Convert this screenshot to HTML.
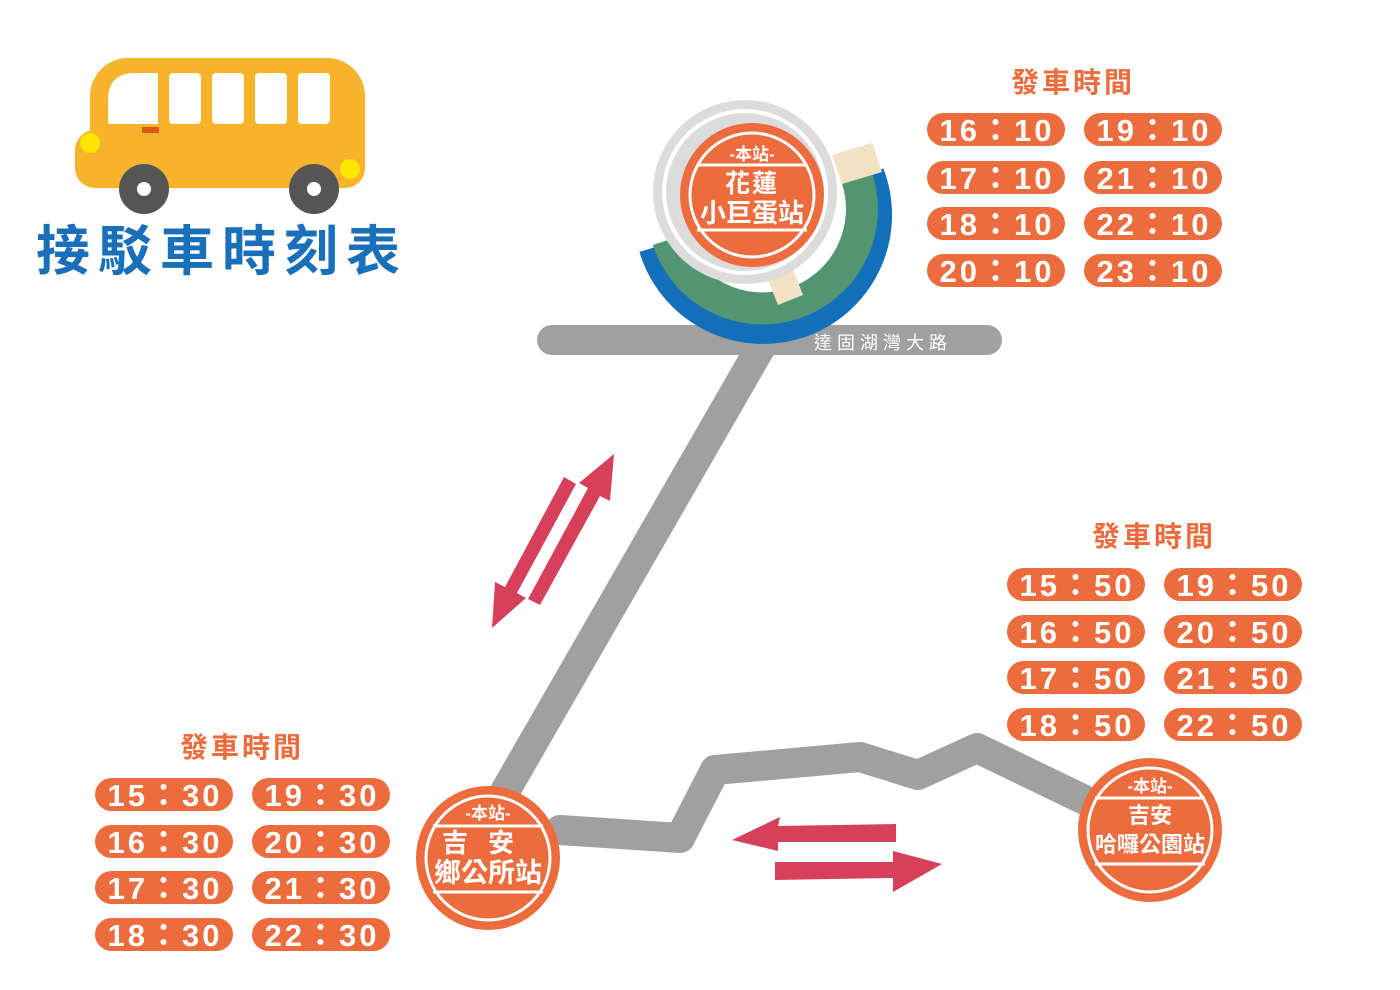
<!DOCTYPE html>
<html><head><meta charset="utf-8"><style>
html,body{margin:0;padding:0;background:#fff}
svg{display:block}
text{font-family:"Liberation Sans","Noto Sans CJK TC",sans-serif;font-weight:bold}
</style></head><body>
<svg width="1400" height="990" viewBox="0 0 1400 990" xmlns="http://www.w3.org/2000/svg">
<!-- bus -->
<rect x="90" y="58" width="275" height="130" rx="38" fill="#f7b32b"/>
<rect x="75" y="130" width="290" height="58" rx="20" fill="#f7b32b"/>
<path d="M108 124 V100 Q108 73 135 73 H158 V124 Z" fill="#fff"/>
<rect x="169" y="73" width="32" height="51" rx="4" fill="#fff"/>
<rect x="212" y="73" width="32" height="51" rx="4" fill="#fff"/>
<rect x="255" y="73" width="32" height="51" rx="4" fill="#fff"/>
<rect x="298" y="73" width="32" height="51" rx="4" fill="#fff"/>
<rect x="142" y="127" width="17" height="6" fill="#e2561c"/>
<circle cx="90" cy="143" r="10" fill="#ffe600"/>
<circle cx="350" cy="169" r="10" fill="#ffe600"/>
<circle cx="144" cy="189" r="25" fill="#555"/><circle cx="144" cy="189" r="7" fill="#fff"/>
<circle cx="314" cy="189" r="25" fill="#555"/><circle cx="314" cy="189" r="7" fill="#fff"/>
<text x="222" y="270" font-size="54" fill="#1a6fba" text-anchor="middle" letter-spacing="8">接駁車時刻表</text>

<!-- roads -->
<g stroke="#a0a0a0" stroke-width="30" fill="none" stroke-linecap="round" stroke-linejoin="round">
<line x1="552" y1="340" x2="987" y2="340"/>
<line x1="762" y1="345" x2="500" y2="800"/>
<polyline points="560,830 680,838 715,770 860,757 918,775 977,748 1095,805"/>
</g>

<!-- top station decoration -->
<g transform="translate(0,-12)">
<path d="M 874 184 A 119 119 0 1 1 649 261" stroke="#126fba" stroke-width="20" fill="none"/>
<path d="M 857 190 A 99 99 0 1 1 668 252" stroke="#529570" stroke-width="32" fill="none"/>
</g>
<polygon points="832,155 872,143 882,172 842,184" fill="#f0e2c2"/>
<polygon points="765,272 790,262 803,295 778,305" fill="#f0e2c2"/>
<circle cx="745" cy="192" r="92" fill="#dcdcdc"/>
<circle cx="745" cy="192" r="83" fill="#fff"/>
<circle cx="745" cy="192" r="79" fill="#dcdcdc"/>
<text x="883" y="349" font-size="18" fill="#fff" text-anchor="middle" letter-spacing="5" style="font-weight:normal">達固湖灣大路</text>

<!-- arrows -->
<g fill="#d6405a">
<polygon points="564,477 576,484 517,593 526,598 492,628 495,582 505,587"/>
<polygon points="540,605 528,599 588,488 579,483 614,454 610,501 600,496"/>
<polygon points="896,824 896,842 778,842 778,851 732,840 780,817 778,826"/>
<polygon points="775,862 775,880 893,878 893,892 942,864 893,851 893,862"/>
</g>

<!-- stations -->
<circle cx="752" cy="195" r="72" fill="#ec6c3d"/>
<circle cx="752" cy="195" r="62" fill="none" stroke="#fff" stroke-width="3"/>
<line x1="697" y1="165" x2="807" y2="165" stroke="#fff" stroke-width="3"/>
<line x1="697" y1="230" x2="807" y2="230" stroke="#fff" stroke-width="3"/>
<text x="752" y="160" font-size="17" fill="#fff" text-anchor="middle">-本站-</text>
<text x="752" y="192" font-size="25" fill="#fff" text-anchor="middle" letter-spacing="2">花蓮</text>
<text x="752" y="222" font-size="26" fill="#fff" text-anchor="middle">小巨蛋站</text>

<circle cx="488" cy="858" r="72" fill="#ec6c3d"/>
<circle cx="488" cy="858" r="62" fill="none" stroke="#fff" stroke-width="3"/>
<line x1="433" y1="826" x2="543" y2="826" stroke="#fff" stroke-width="3"/>
<line x1="433" y1="892" x2="543" y2="892" stroke="#fff" stroke-width="3"/>
<text x="488" y="819" font-size="17" fill="#fff" text-anchor="middle">-本站-</text>
<text x="488" y="852" font-size="26" fill="#fff" text-anchor="middle" letter-spacing="20">吉安</text>
<text x="488" y="882" font-size="27" fill="#fff" text-anchor="middle">鄉公所站</text>

<circle cx="1150" cy="830" r="72" fill="#ec6c3d"/>
<circle cx="1150" cy="830" r="62" fill="none" stroke="#fff" stroke-width="3"/>
<line x1="1095" y1="798" x2="1205" y2="798" stroke="#fff" stroke-width="3"/>
<line x1="1095" y1="864" x2="1205" y2="864" stroke="#fff" stroke-width="3"/>
<text x="1150" y="792" font-size="17" fill="#fff" text-anchor="middle">-本站-</text>
<text x="1150" y="823" font-size="22" fill="#fff" text-anchor="middle">吉安</text>
<text x="1150" y="852" font-size="22" fill="#fff" text-anchor="middle">哈囉公園站</text>

<!-- timetables -->
<text x="1073" y="92" font-size="28" fill="#ec6c3d" text-anchor="middle" letter-spacing="3">發車時間</text>
<text x="1154" y="546" font-size="28" fill="#ec6c3d" text-anchor="middle" letter-spacing="3">發車時間</text>
<text x="242" y="757" font-size="28" fill="#ec6c3d" text-anchor="middle" letter-spacing="3">發車時間</text>
<g fill="#ec6c3d">
<rect x="927" y="113" width="138" height="33" rx="16.5"/><rect x="1084" y="113" width="138" height="33" rx="16.5"/>
<rect x="927" y="161" width="138" height="33" rx="16.5"/><rect x="1084" y="161" width="138" height="33" rx="16.5"/>
<rect x="927" y="207" width="138" height="33" rx="16.5"/><rect x="1084" y="207" width="138" height="33" rx="16.5"/>
<rect x="927" y="254" width="138" height="33" rx="16.5"/><rect x="1084" y="254" width="138" height="33" rx="16.5"/>

<rect x="1007" y="568" width="138" height="33" rx="16.5"/><rect x="1164" y="568" width="138" height="33" rx="16.5"/>
<rect x="1007" y="615" width="138" height="33" rx="16.5"/><rect x="1164" y="615" width="138" height="33" rx="16.5"/>
<rect x="1007" y="661" width="138" height="33" rx="16.5"/><rect x="1164" y="661" width="138" height="33" rx="16.5"/>
<rect x="1007" y="708" width="138" height="33" rx="16.5"/><rect x="1164" y="708" width="138" height="33" rx="16.5"/>

<rect x="95" y="778" width="138" height="33" rx="16.5"/><rect x="252" y="778" width="138" height="33" rx="16.5"/>
<rect x="95" y="825" width="138" height="33" rx="16.5"/><rect x="252" y="825" width="138" height="33" rx="16.5"/>
<rect x="95" y="871" width="138" height="33" rx="16.5"/><rect x="252" y="871" width="138" height="33" rx="16.5"/>
<rect x="95" y="918" width="138" height="33" rx="16.5"/><rect x="252" y="918" width="138" height="33" rx="16.5"/>
</g>
<g font-size="31" fill="#fff" text-anchor="middle" letter-spacing="3">
<text x="997" y="141">16：10</text><text x="1154" y="141">19：10</text>
<text x="997" y="189">17：10</text><text x="1154" y="189">21：10</text>
<text x="997" y="235">18：10</text><text x="1154" y="235">22：10</text>
<text x="997" y="282">20：10</text><text x="1154" y="282">23：10</text>

<text x="1077" y="596">15：50</text><text x="1234" y="596">19：50</text>
<text x="1077" y="643">16：50</text><text x="1234" y="643">20：50</text>
<text x="1077" y="689">17：50</text><text x="1234" y="689">21：50</text>
<text x="1077" y="736">18：50</text><text x="1234" y="736">22：50</text>

<text x="165" y="806">15：30</text><text x="322" y="806">19：30</text>
<text x="165" y="853">16：30</text><text x="322" y="853">20：30</text>
<text x="165" y="899">17：30</text><text x="322" y="899">21：30</text>
<text x="165" y="946">18：30</text><text x="322" y="946">22：30</text>
</g>
</svg>
</body></html>
